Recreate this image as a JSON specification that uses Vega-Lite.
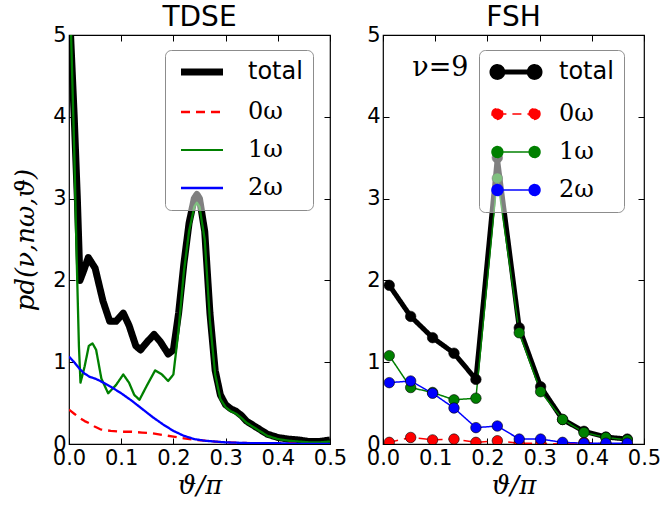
{
  "$schema": "https://vega.github.io/schema/vega-lite/v6.json",
  "background": "white",
  "padding": {"left": 12, "top": 3, "right": 0, "bottom": 5},
  "config": {
    "font": "DejaVu Sans",
    "view": {"stroke": "black", "strokeWidth": 1.2},
    "axis": {
      "domain": false, "grid": false, "tickColor": "black", "tickSize": -6, "tickWidth": 1,
      "labelFont": "DejaVu Sans", "labelFontSize": 21, "labelColor": "black", "labelPadding": 9,
      "labelFlush": false, "labelOverlap": false,
      "titleFont": "DejaVu Serif", "titleFontStyle": "italic", "titleFontWeight": "normal", "titleFontSize": 26, "titleColor": "black"
    },
    "title": {"font": "DejaVu Sans", "fontSize": 28, "fontWeight": "normal", "color": "black", "offset": -8},
    "legend": {
      "strokeColor": "#8c8c8c", "cornerRadius": 6, "fillColor": "rgba(255,255,255,0.5)",
      "orient": "none", "legendX": 96, "legendY": 15, "padding": 10, "rowPadding": 14, "symbolOffset": 15,
      "labelFontSize": 24, "labelColor": "black", "title": null
    }
  },
  "datasets": {
    "tdse": [
      {"series": "total", "theta": 0.003, "p": 5.0},
      {"series": "total", "theta": 0.01, "p": 4.0},
      {"series": "total", "theta": 0.016, "p": 3.0},
      {"series": "total", "theta": 0.021, "p": 2.0},
      {"series": "total", "theta": 0.027, "p": 2.1},
      {"series": "total", "theta": 0.037, "p": 2.28},
      {"series": "total", "theta": 0.05, "p": 2.15},
      {"series": "total", "theta": 0.065, "p": 1.75},
      {"series": "total", "theta": 0.078, "p": 1.5},
      {"series": "total", "theta": 0.09, "p": 1.5},
      {"series": "total", "theta": 0.104, "p": 1.6},
      {"series": "total", "theta": 0.115, "p": 1.45},
      {"series": "total", "theta": 0.128, "p": 1.2},
      {"series": "total", "theta": 0.137, "p": 1.15},
      {"series": "total", "theta": 0.15, "p": 1.25},
      {"series": "total", "theta": 0.163, "p": 1.34},
      {"series": "total", "theta": 0.175, "p": 1.25},
      {"series": "total", "theta": 0.19, "p": 1.1},
      {"series": "total", "theta": 0.2, "p": 1.15},
      {"series": "total", "theta": 0.21, "p": 1.6},
      {"series": "total", "theta": 0.22, "p": 2.2},
      {"series": "total", "theta": 0.23, "p": 2.7},
      {"series": "total", "theta": 0.24, "p": 3.0},
      {"series": "total", "theta": 0.245, "p": 3.05},
      {"series": "total", "theta": 0.25, "p": 3.0},
      {"series": "total", "theta": 0.26, "p": 2.6},
      {"series": "total", "theta": 0.27, "p": 1.6},
      {"series": "total", "theta": 0.28, "p": 0.9},
      {"series": "total", "theta": 0.29, "p": 0.6},
      {"series": "total", "theta": 0.3, "p": 0.48},
      {"series": "total", "theta": 0.31, "p": 0.43},
      {"series": "total", "theta": 0.32, "p": 0.4},
      {"series": "total", "theta": 0.33, "p": 0.35},
      {"series": "total", "theta": 0.34, "p": 0.28},
      {"series": "total", "theta": 0.36, "p": 0.2},
      {"series": "total", "theta": 0.38, "p": 0.12},
      {"series": "total", "theta": 0.4, "p": 0.08},
      {"series": "total", "theta": 0.42, "p": 0.06},
      {"series": "total", "theta": 0.44, "p": 0.05},
      {"series": "total", "theta": 0.46, "p": 0.03},
      {"series": "total", "theta": 0.48, "p": 0.03},
      {"series": "total", "theta": 0.5, "p": 0.05},
      {"series": "0ω", "theta": 0.0, "p": 0.42},
      {"series": "0ω", "theta": 0.01, "p": 0.37},
      {"series": "0ω", "theta": 0.02, "p": 0.32},
      {"series": "0ω", "theta": 0.03, "p": 0.28},
      {"series": "0ω", "theta": 0.04, "p": 0.25},
      {"series": "0ω", "theta": 0.05, "p": 0.21},
      {"series": "0ω", "theta": 0.06, "p": 0.18},
      {"series": "0ω", "theta": 0.08, "p": 0.16},
      {"series": "0ω", "theta": 0.1, "p": 0.15},
      {"series": "0ω", "theta": 0.12, "p": 0.15},
      {"series": "0ω", "theta": 0.14, "p": 0.14},
      {"series": "0ω", "theta": 0.16, "p": 0.13},
      {"series": "0ω", "theta": 0.18, "p": 0.11},
      {"series": "0ω", "theta": 0.2, "p": 0.09},
      {"series": "0ω", "theta": 0.22, "p": 0.07},
      {"series": "0ω", "theta": 0.24, "p": 0.05},
      {"series": "0ω", "theta": 0.26, "p": 0.04},
      {"series": "0ω", "theta": 0.28, "p": 0.03},
      {"series": "0ω", "theta": 0.3, "p": 0.02},
      {"series": "0ω", "theta": 0.35, "p": 0.01},
      {"series": "0ω", "theta": 0.4, "p": 0.01},
      {"series": "0ω", "theta": 0.45, "p": 0.01},
      {"series": "0ω", "theta": 0.5, "p": 0.0},
      {"series": "1ω", "theta": 0.004, "p": 5.0},
      {"series": "1ω", "theta": 0.01, "p": 3.6},
      {"series": "1ω", "theta": 0.015, "p": 2.2},
      {"series": "1ω", "theta": 0.019, "p": 1.2},
      {"series": "1ω", "theta": 0.022, "p": 0.75},
      {"series": "1ω", "theta": 0.03, "p": 0.95},
      {"series": "1ω", "theta": 0.038, "p": 1.2},
      {"series": "1ω", "theta": 0.045, "p": 1.23},
      {"series": "1ω", "theta": 0.052, "p": 1.15},
      {"series": "1ω", "theta": 0.062, "p": 0.8},
      {"series": "1ω", "theta": 0.075, "p": 0.62},
      {"series": "1ω", "theta": 0.09, "p": 0.72},
      {"series": "1ω", "theta": 0.104, "p": 0.85},
      {"series": "1ω", "theta": 0.115, "p": 0.75},
      {"series": "1ω", "theta": 0.125, "p": 0.6},
      {"series": "1ω", "theta": 0.135, "p": 0.54},
      {"series": "1ω", "theta": 0.148, "p": 0.7},
      {"series": "1ω", "theta": 0.165, "p": 0.9},
      {"series": "1ω", "theta": 0.178, "p": 0.85},
      {"series": "1ω", "theta": 0.19, "p": 0.77},
      {"series": "1ω", "theta": 0.2, "p": 0.85},
      {"series": "1ω", "theta": 0.21, "p": 1.4},
      {"series": "1ω", "theta": 0.22, "p": 2.1},
      {"series": "1ω", "theta": 0.23, "p": 2.6},
      {"series": "1ω", "theta": 0.24, "p": 2.9},
      {"series": "1ω", "theta": 0.245, "p": 2.95},
      {"series": "1ω", "theta": 0.25, "p": 2.9},
      {"series": "1ω", "theta": 0.26, "p": 2.5},
      {"series": "1ω", "theta": 0.27, "p": 1.5},
      {"series": "1ω", "theta": 0.28, "p": 0.85},
      {"series": "1ω", "theta": 0.29, "p": 0.55},
      {"series": "1ω", "theta": 0.3, "p": 0.45},
      {"series": "1ω", "theta": 0.31, "p": 0.4},
      {"series": "1ω", "theta": 0.32, "p": 0.37},
      {"series": "1ω", "theta": 0.33, "p": 0.32},
      {"series": "1ω", "theta": 0.34, "p": 0.26},
      {"series": "1ω", "theta": 0.36, "p": 0.18},
      {"series": "1ω", "theta": 0.38, "p": 0.1},
      {"series": "1ω", "theta": 0.4, "p": 0.06},
      {"series": "1ω", "theta": 0.42, "p": 0.04},
      {"series": "1ω", "theta": 0.44, "p": 0.03},
      {"series": "1ω", "theta": 0.46, "p": 0.02},
      {"series": "1ω", "theta": 0.48, "p": 0.02},
      {"series": "1ω", "theta": 0.5, "p": 0.03},
      {"series": "2ω", "theta": 0.0, "p": 1.07},
      {"series": "2ω", "theta": 0.01, "p": 1.0},
      {"series": "2ω", "theta": 0.02, "p": 0.92},
      {"series": "2ω", "theta": 0.03, "p": 0.86},
      {"series": "2ω", "theta": 0.04, "p": 0.82},
      {"series": "2ω", "theta": 0.05, "p": 0.8},
      {"series": "2ω", "theta": 0.06, "p": 0.77},
      {"series": "2ω", "theta": 0.08, "p": 0.7},
      {"series": "2ω", "theta": 0.1, "p": 0.62},
      {"series": "2ω", "theta": 0.12, "p": 0.53},
      {"series": "2ω", "theta": 0.14, "p": 0.43},
      {"series": "2ω", "theta": 0.16, "p": 0.33},
      {"series": "2ω", "theta": 0.18, "p": 0.24},
      {"series": "2ω", "theta": 0.2, "p": 0.16},
      {"series": "2ω", "theta": 0.22, "p": 0.1},
      {"series": "2ω", "theta": 0.24, "p": 0.06},
      {"series": "2ω", "theta": 0.26, "p": 0.04},
      {"series": "2ω", "theta": 0.28, "p": 0.03},
      {"series": "2ω", "theta": 0.3, "p": 0.02},
      {"series": "2ω", "theta": 0.35, "p": 0.01},
      {"series": "2ω", "theta": 0.4, "p": 0.01},
      {"series": "2ω", "theta": 0.45, "p": 0.0},
      {"series": "2ω", "theta": 0.5, "p": 0.0}
    ],
    "fsh": [
      {"series": "total", "theta": 0.012, "p": 1.94},
      {"series": "total", "theta": 0.053, "p": 1.56},
      {"series": "total", "theta": 0.095, "p": 1.3},
      {"series": "total", "theta": 0.136, "p": 1.11},
      {"series": "total", "theta": 0.178, "p": 0.79},
      {"series": "total", "theta": 0.219, "p": 3.5},
      {"series": "total", "theta": 0.261, "p": 1.42},
      {"series": "total", "theta": 0.302, "p": 0.7},
      {"series": "total", "theta": 0.344, "p": 0.3},
      {"series": "total", "theta": 0.385, "p": 0.155},
      {"series": "total", "theta": 0.427, "p": 0.085},
      {"series": "total", "theta": 0.468, "p": 0.06},
      {"series": "0ω", "theta": 0.012, "p": 0.02},
      {"series": "0ω", "theta": 0.053, "p": 0.08},
      {"series": "0ω", "theta": 0.095, "p": 0.05},
      {"series": "0ω", "theta": 0.136, "p": 0.06},
      {"series": "0ω", "theta": 0.178, "p": 0.02},
      {"series": "0ω", "theta": 0.219, "p": 0.04},
      {"series": "0ω", "theta": 0.261, "p": 0.01},
      {"series": "0ω", "theta": 0.302, "p": 0.01},
      {"series": "0ω", "theta": 0.344, "p": 0.0},
      {"series": "0ω", "theta": 0.385, "p": 0.02},
      {"series": "0ω", "theta": 0.427, "p": 0.0},
      {"series": "0ω", "theta": 0.468, "p": 0.0},
      {"series": "1ω", "theta": 0.012, "p": 1.08},
      {"series": "1ω", "theta": 0.053, "p": 0.69},
      {"series": "1ω", "theta": 0.095, "p": 0.63},
      {"series": "1ω", "theta": 0.136, "p": 0.54},
      {"series": "1ω", "theta": 0.178, "p": 0.56},
      {"series": "1ω", "theta": 0.219, "p": 3.25},
      {"series": "1ω", "theta": 0.261, "p": 1.36},
      {"series": "1ω", "theta": 0.302, "p": 0.64},
      {"series": "1ω", "theta": 0.344, "p": 0.3},
      {"series": "1ω", "theta": 0.385, "p": 0.14},
      {"series": "1ω", "theta": 0.427, "p": 0.08},
      {"series": "1ω", "theta": 0.468, "p": 0.05},
      {"series": "2ω", "theta": 0.012, "p": 0.75},
      {"series": "2ω", "theta": 0.053, "p": 0.77},
      {"series": "2ω", "theta": 0.095, "p": 0.62},
      {"series": "2ω", "theta": 0.136, "p": 0.44},
      {"series": "2ω", "theta": 0.178, "p": 0.2},
      {"series": "2ω", "theta": 0.219, "p": 0.22},
      {"series": "2ω", "theta": 0.261, "p": 0.06},
      {"series": "2ω", "theta": 0.302, "p": 0.06},
      {"series": "2ω", "theta": 0.344, "p": 0.02},
      {"series": "2ω", "theta": 0.385, "p": 0.01},
      {"series": "2ω", "theta": 0.427, "p": 0.01},
      {"series": "2ω", "theta": 0.468, "p": 0.01}
    ],
    "note": [{"theta": 0.11, "p": 4.6, "label": "ν=9"}]
  },
  "spacing": 17,
  "resolve": {
    "scale": {"color": "independent", "strokeDash": "independent", "fill": "independent"},
    "legend": {"color": "independent", "strokeDash": "independent"}
  },
  "hconcat": [
    {
      "width": 261, "height": 409,
      "title": {"text": "TDSE"},
      "data": {"name": "tdse"},
      "resolve": {"axis": {"x": "independent", "y": "independent"}},
      "encoding": {
        "color": {"field": "series", "type": "nominal",
                  "scale": {"domain": ["total", "0ω", "1ω", "2ω"], "range": ["#000000", "#ff0000", "#008000", "#0000ff"]},
                  "legend": {"symbolType": "M-2,0H2", "symbolSize": 441, "labelOffset": 34,
                             "encode": {
                               "labels": {"update": {"font": {"signal": "datum.value === 'total' ? 'DejaVu Sans' : 'DejaVu Serif'"}}},
                               "symbols": {"update": {"strokeWidth": {"signal": "datum.value === 'total' ? 7 : datum.value === '1ω' ? 2 : 2.5"}}}
                             }}},
        "strokeDash": {"field": "series", "type": "nominal",
                       "scale": {"domain": ["total", "0ω", "1ω", "2ω"], "range": [[1, 0], [9, 6], [1, 0], [1, 0]]}}
      },
      "layer": [
        {
          "transform": [{"filter": "datum.series === 'total'"}],
          "mark": {"type": "line", "clip": true, "strokeJoin": "round", "strokeWidth": 7},
          "encoding": {
            "x": {"field": "theta", "type": "quantitative", "scale": {"domain": [0, 0.5], "nice": false, "zero": false},
                  "axis": {"orient": "bottom", "values": [0, 0.1, 0.2, 0.3, 0.4, 0.5], "format": ".1f", "title": "ϑ/π"}},
            "y": {"field": "p", "type": "quantitative", "scale": {"domain": [0, 5], "nice": false},
                  "axis": {"orient": "left", "values": [0, 1, 2, 3, 4, 5], "format": "d", "title": "pd(ν,nω,ϑ)", "titlePadding": 14}}
          }
        },
        {
          "transform": [{"filter": "datum.series !== 'total'"}],
          "mark": {"type": "line", "clip": true, "strokeJoin": "round", "strokeWidth": 2.3},
          "encoding": {
            "x": {"field": "theta", "type": "quantitative",
                  "axis": {"orient": "top", "values": [0, 0.1, 0.2, 0.3, 0.4, 0.5], "labels": false, "title": null}},
            "y": {"field": "p", "type": "quantitative",
                  "axis": {"orient": "right", "values": [0, 1, 2, 3, 4, 5], "labels": false, "title": null}}
          }
        }
      ]
    },
    {
      "width": 261, "height": 409,
      "title": {"text": "FSH"},
      "resolve": {"axis": {"x": "independent", "y": "independent"}},
      "layer": [
        {
          "data": {"name": "fsh"},
          "transform": [{"filter": "datum.series === 'total'"}],
          "mark": {"type": "line", "clip": true, "strokeJoin": "round", "strokeWidth": 5},
          "encoding": {
            "x": {"field": "theta", "type": "quantitative", "scale": {"domain": [0, 0.5], "nice": false, "zero": false},
                  "axis": {"orient": "bottom", "values": [0, 0.1, 0.2, 0.3, 0.4, 0.5], "format": ".1f", "title": "ϑ/π"}},
            "y": {"field": "p", "type": "quantitative", "scale": {"domain": [0, 5], "nice": false},
                  "axis": {"orient": "left", "values": [0, 1, 2, 3, 4, 5], "format": "d", "title": null}},
            "color": {"field": "series", "type": "nominal",
                      "scale": {"domain": ["total", "0ω", "1ω", "2ω"], "range": ["#000000", "#ff0000", "#008000", "#0000ff"]},
                      "legend": {"symbolType": "M-1.55,0H1.55M-1.1,0A0.45,0.45,0,1,1,-2,0A0.45,0.45,0,1,1,-1.1,0ZM2,0A0.45,0.45,0,1,1,1.1,0A0.45,0.45,0,1,1,2,0Z",
                                 "symbolSize": 576, "labelOffset": 31,
                                 "encode": {
                                   "labels": {"update": {"font": {"signal": "datum.value === 'total' ? 'DejaVu Sans' : 'DejaVu Serif'"}}},
                                   "symbols": {"update": {
                                     "fill": {"signal": "datum.value === 'total' ? '#000000' : datum.value === '0ω' ? '#ff0000' : datum.value === '1ω' ? '#008000' : '#0000ff'"},
                                     "strokeWidth": {"signal": "datum.value === 'total' ? 5 : 1.5"}}}
                                 }}},
            "strokeDash": {"field": "series", "type": "nominal",
                           "scale": {"domain": ["total", "0ω", "1ω", "2ω"], "range": [[1, 0], [9, 6], [1, 0], [1, 0]]}}
          }
        },
        {
          "data": {"name": "fsh"},
          "transform": [{"filter": "datum.series !== 'total'"}],
          "mark": {"type": "line", "clip": true, "strokeJoin": "round", "strokeWidth": 1.5},
          "encoding": {
            "x": {"field": "theta", "type": "quantitative", "axis": null},
            "y": {"field": "p", "type": "quantitative", "axis": null},
            "color": {"field": "series", "type": "nominal",
                      "scale": {"domain": ["total", "0ω", "1ω", "2ω"], "range": ["#000000", "#ff0000", "#008000", "#0000ff"]}},
            "strokeDash": {"field": "series", "type": "nominal",
                           "scale": {"domain": ["total", "0ω", "1ω", "2ω"], "range": [[1, 0], [9, 6], [1, 0], [1, 0]]}}
          }
        },
        {
          "data": {"name": "fsh"},
          "mark": {"type": "point", "filled": true, "shape": "circle", "size": 110, "stroke": "black", "strokeWidth": 0.6, "opacity": 1, "clip": true},
          "encoding": {
            "x": {"field": "theta", "type": "quantitative",
                  "axis": {"orient": "top", "values": [0, 0.1, 0.2, 0.3, 0.4, 0.5], "labels": false, "title": null}},
            "y": {"field": "p", "type": "quantitative",
                  "axis": {"orient": "right", "values": [0, 1, 2, 3, 4, 5], "labels": false, "title": null}},
            "fill": {"field": "series", "type": "nominal",
                     "scale": {"domain": ["total", "0ω", "1ω", "2ω"], "range": ["#000000", "#ff0000", "#008000", "#0000ff"]},
                     "legend": null}
          }
        },
        {
          "data": {"name": "note"},
          "mark": {"type": "text", "font": "DejaVu Serif", "fontSize": 27, "color": "black", "align": "center", "baseline": "middle"},
          "encoding": {
            "x": {"field": "theta", "type": "quantitative", "axis": null},
            "y": {"field": "p", "type": "quantitative", "axis": null},
            "text": {"field": "label"}
          }
        }
      ]
    }
  ]
}
